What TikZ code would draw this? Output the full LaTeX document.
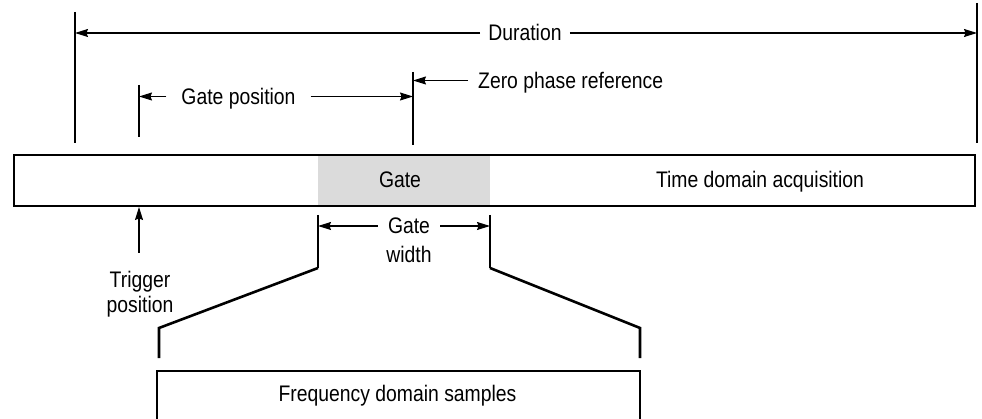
\documentclass[tikz,border=0pt]{standalone}
\usepackage{fontspec}
\setmainfont{Liberation Sans}[FakeStretch=0.86]
\usetikzlibrary{arrows.meta,positioning}

\begin{document}
\begin{tikzpicture}[x=1pt, y=-1pt,
  lbl/.style={font=\fontsize{22.5}{25}\selectfont, inner ysep=0pt,
    text height=16pt, text depth=0pt},
  dimarrow/.style={line width=1.1pt, -{Stealth[length=13pt, width=8pt, inset=1.5pt]}},
  tickline/.style={line width=1.1pt},
  heavy/.style={line width=2pt},
  funnel/.style={line width=2.6pt, line join=miter}]
\useasboundingbox (0,0) rectangle (982,419);
% ---------------- dimension lines above the record ----------------
\coordinate (durLtop) at (75,12);   \coordinate (durLbot) at (75,143);
\coordinate (durRtop) at (977,3);   \coordinate (durRbot) at (977,143);
\coordinate (gposTop) at (139,85);  \coordinate (gposBot) at (139,137);
\coordinate (zeroTop) at (413,72);  \coordinate (zeroBot) at (413,145);
\draw[tickline] (durLtop) -- (durLbot);
\draw[tickline] (durRtop) -- (durRbot);
\draw[tickline] (gposTop) -- (gposBot);
\draw[tickline] (zeroTop) -- (zeroBot);
\node[lbl, inner xsep=8pt] (dur) at (525,33) {Duration};
\draw[dimarrow] (dur.west) -- (dur.west -| durLtop);
\draw[dimarrow] (dur.east) -- (dur.east -| durRtop);
\node[lbl, inner xsep=15pt] (gpos) at (238.5,96.5) {Gate position};
\draw[dimarrow] (gpos.west) -- (gpos.west -| gposTop);
\draw[dimarrow] (gpos.east) -- (gpos.east -| zeroTop);
\node[lbl, inner xsep=10pt, anchor=west] (zero) at (468,80.5) {Zero phase reference};
\draw[dimarrow] (zero.west) -- (zero.west -| zeroTop);
% ---------------- time domain record ----------------
\fill[black!14] (318,155) rectangle (490,206);
\node[heavy, draw, minimum width=961pt, minimum height=51pt, inner sep=0pt]
  (acq) at (494.5,180.5) {};
\node[lbl] (gate) at (400,180) {Gate};
\node[lbl] (tda) at (760,180) {Time domain acquisition};
% trigger
\node[lbl] (trigA) at (140,280) {Trigger};
\node[lbl] (trigB) at (140,305) {position};
\coordinate (trigFoot) at (139,253);
\draw[dimarrow] (trigFoot) -- (trigFoot |- acq.south);
% ---------------- gate width and funnel ----------------
\coordinate (gwLtop) at (318,215); \coordinate (gwLbot) at (318,268);
\coordinate (gwRtop) at (490,215); \coordinate (gwRbot) at (490,268);
\draw[tickline] (gwLtop) -- (gwLbot);
\draw[tickline] (gwRtop) -- (gwRbot);
\node[lbl, inner xsep=10pt] (gwA) at (409,226) {Gate};
\node[lbl] (gwB) at (409,255) {width};
\draw[dimarrow] (gwA.west) -- (gwA.west -| gwLtop);
\draw[dimarrow] (gwA.east) -- (gwA.east -| gwRtop);
\coordinate (fnL) at (159,328); \coordinate (fnR) at (640,328);
\draw[funnel] (gwLbot) -- (fnL) -- ++(0,30);
\draw[funnel] (gwRbot) -- (fnR) -- ++(0,30);
% ---------------- frequency domain record ----------------
\draw[heavy] (157,430) -- (157,371) -- (640,371) -- (640,430);
\node[lbl] (fds) at (397.5,393.5) {Frequency domain samples};
\end{tikzpicture}
\end{document}
